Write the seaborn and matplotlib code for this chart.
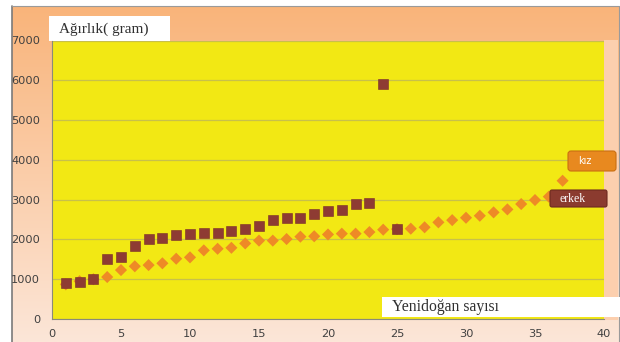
import numpy as np
import pandas as pd
import matplotlib
matplotlib.use("Agg")
import matplotlib.pyplot as plt
from matplotlib.patches import FancyBboxPatch, Rectangle
import seaborn as sns

# Birth weights (grams) by newborn index
erkek_x = list(range(1, 26))
erkek_w = [910, 930, 1000, 1500, 1565, 1830, 2020, 2045, 2120, 2125,
           2150, 2160, 2200, 2260, 2335, 2490, 2540, 2535, 2650, 2705,
           2740, 2890, 2915, 5900, 2270]
kiz_x = list(range(1, 38))
kiz_w = [870, 950, 1000, 1055, 1230, 1325, 1355, 1400, 1515, 1550,
         1725, 1765, 1790, 1900, 1970, 1970, 2010, 2070, 2080, 2125,
         2145, 2145, 2185, 2245, 2260, 2270, 2305, 2430, 2485, 2545,
         2595, 2680, 2755, 2890, 2990, 3075, 3475]
x_ticks = [0, 5, 10, 15, 20, 25, 30, 35, 40]
y_ticks = [0, 1000, 2000, 3000, 4000, 5000, 6000, 7000]

df_e = pd.DataFrame({"n": erkek_x, "w": erkek_w})
df_k = pd.DataFrame({"n": kiz_x, "w": kiz_w})

sns.set_theme(style="white")
plt.rcParams["font.family"] = ["DejaVu Sans"]

W, H = 620, 342
fig = plt.figure(figsize=(W / 100, H / 100), dpi=100)
fig.patch.set_facecolor("white")

# background panel with a peach vertical gradient
bg = fig.add_axes([0, 0, 1, 1], zorder=0)
bg.set_xlim(0, W)
bg.set_ylim(H, 0)
bg.set_axis_off()
top = np.array([249, 180, 122]) / 255
bot = np.array([252, 230, 216]) / 255
t = np.linspace(0, 1, 256)[:, None]
grad = (top[None, :] * (1 - t) + bot[None, :] * t)[:, None, :]
bg.imshow(grad, extent=[12, 619, H, 6], aspect="auto", zorder=0)
bg.plot([12, 12], [6, H], color="#7a7a7a", lw=1.2, zorder=2)
bg.plot([12, 619], [6, 6], color="#9a9a9a", lw=0.8, zorder=2)
bg.plot([619, 619], [6, H], color="#9a9a9a", lw=0.8, zorder=2)
bg.add_patch(Rectangle((604, 40), 14, 280, facecolor="#fccfae", edgecolor="none", zorder=1))

# main plot
ax = fig.add_axes([52 / W, (H - 319) / H, (604 - 52) / W, (319 - 40.5) / H], zorder=1)
ax.set_facecolor("#f2e814")
ax.set_xlim(0, 40)
ax.set_ylim(0, 7000)
ax.set_xticks(x_ticks)
ax.set_yticks(y_ticks)
ax.grid(axis="y", color="#c8c04a", lw=0.9)
ax.grid(axis="x", visible=False)
ax.set_axisbelow(True)
for s in ["top", "right"]:
    ax.spines[s].set_visible(False)
for s in ["left", "bottom"]:
    ax.spines[s].set_color("#8a8a7a")
    ax.spines[s].set_linewidth(0.8)
ax.tick_params(axis="both", which="major", direction="out", length=3.5, width=0.8,
               color="#8a8a7a", labelsize=8.2, labelcolor="#404040")
ax.tick_params(axis="y", pad=5)
ax.tick_params(axis="x", pad=4)

sns.scatterplot(data=df_k, x="n", y="w", marker="D", s=38, color="#ee8a26",
                edgecolor="none", linewidth=0, ax=ax, zorder=3)
sns.scatterplot(data=df_e, x="n", y="w", marker="s", s=58, color="#8e3b33",
                edgecolor="#7a2e28", linewidth=0.4, ax=ax, zorder=4)
ax.set_xlabel("")
ax.set_ylabel("")

# axis titles in white boxes
bg.add_patch(Rectangle((49, 16), 121, 25, facecolor="white", edgecolor="none", zorder=3))
bg.text(59, 29, "Ağırlık( gram)", fontsize=11, family="Liberation Serif",
        color="#303030", va="center", ha="left", zorder=4)
over = fig.add_axes([0, 0, 1, 1], zorder=5)
over.set_xlim(0, W)
over.set_ylim(H, 0)
over.set_axis_off()
over.patch.set_alpha(0)
over.add_patch(Rectangle((382, 297), 238, 20, facecolor="white", edgecolor="none"))
over.text(392, 307, "Yenidoğan sayısı", fontsize=11.3, family="Liberation Serif",
          color="#303030", va="center", ha="left")

# series labels
over.add_patch(FancyBboxPatch((568, 151), 48, 20, boxstyle="round,pad=0,rounding_size=3",
                              facecolor="#e8891f", edgecolor="#c96f12", lw=0.8))
over.text(578, 161, "kız", fontsize=7, color="white", va="center", ha="left")
over.add_patch(FancyBboxPatch((550, 190), 57, 17, boxstyle="round,pad=0,rounding_size=2",
                              facecolor="#8b3b2f", edgecolor="#6e2a20", lw=0.8))
over.text(559, 198.5, "erkek", fontsize=8.5, family="Liberation Serif", color="white",
          va="center", ha="left")

fig.savefig("out.png", dpi=100)
